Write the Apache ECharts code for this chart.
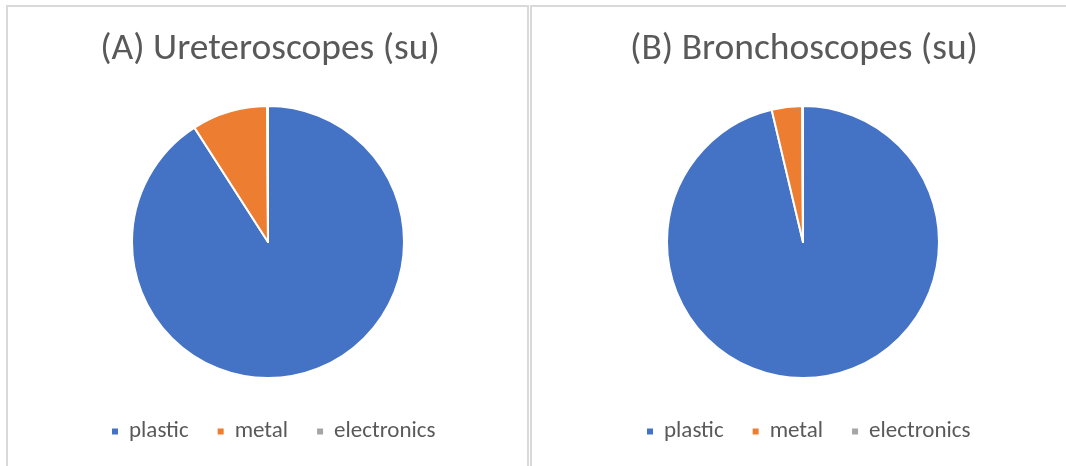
<!DOCTYPE html>
<html>
<head>
<meta charset="utf-8">
<script src="https://cdn.jsdelivr.net/npm/echarts@6/dist/echarts.min.js"></script>
<style>
  html, body { margin: 0; padding: 0; background: #ffffff; }
  #chart { width: 1066px; height: 466px; }
</style>
</head>
<body>
<div id="chart"></div>
<script>
// Material composition of single-use scopes
const categories = ['plastic', 'metal', 'electronics'];
const ureteroscopeShares = [90.9, 9.0, 0.1];
const bronchoscopeShares = [96.3, 3.6, 0.1];
const titles = ['(A) Ureteroscopes (su)', '(B) Bronchoscopes (su)'];
const colors = ['#4472C4', '#ED7D31', '#A5A5A5'];

const fontFamily = 'Carlito, Calibri, "Liberation Sans", sans-serif';
const textColor = '#595959';

function toData(values) {
  return categories.map((name, i) => ({ name, value: values[i] }));
}

function pieSeries(values, cx) {
  return {
    type: 'pie',
    center: [cx, 242],
    radius: 136,
    startAngle: 90,
    clockwise: true,
    label: { show: false },
    labelLine: { show: false },
    emphasis: { disabled: true },
    itemStyle: { borderColor: '#ffffff', borderWidth: 2 },
    data: toData(values)
  };
}

function legendAt(left) {
  return {
    data: categories,
    left: left,
    top: 420,
    padding: 0,
    icon: 'rect',
    itemWidth: 8,
    itemHeight: 8,
    itemGap: 27,
    selectedMode: false,
    textStyle: { fontFamily, fontSize: 23, color: textColor, padding: [0, 0, 0, 5] }
  };
}

function titleAt(text, cx) {
  return {
    text, left: cx, top: 31, textAlign: 'center', padding: 0,
    textStyle: { fontFamily, fontSize: 37.5, fontWeight: 'normal', color: textColor }
  };
}

const chart = echarts.init(document.getElementById('chart'), null, { renderer: 'canvas' });
chart.setOption({
  animation: false,
  color: colors,
  title: [titleAt(titles[0], 270), titleAt(titles[1], 804)],
  legend: [legendAt(110), legendAt(645)],
  graphic: [
    { type: 'rect', shape: { x: 7, y: 6, width: 521, height: 520 },
      style: { fill: 'none', stroke: '#d9d9d9', lineWidth: 2 }, silent: true },
    { type: 'rect', shape: { x: 531, y: 6, width: 600, height: 520 },
      style: { fill: 'none', stroke: '#d9d9d9', lineWidth: 2 }, silent: true }
  ],
  series: [
    pieSeries(ureteroscopeShares, 268),
    pieSeries(bronchoscopeShares, 803)
  ]
});
</script>
</body>
</html>
